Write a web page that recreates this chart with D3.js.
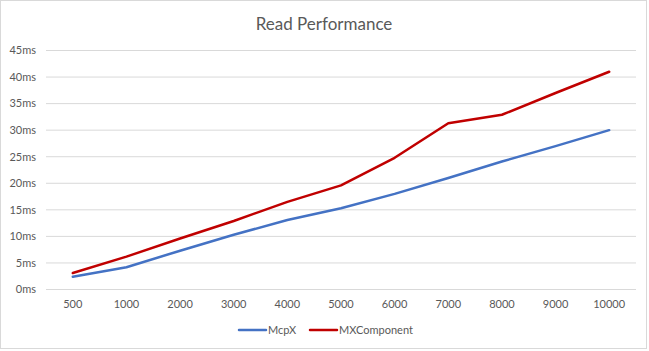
<!DOCTYPE html>
<html>
<head>
<meta charset="utf-8">
<script src="https://cdn.jsdelivr.net/npm/d3@7"></script>
<style>
  body { margin: 0; background: #fff; }
  text { font-family: Lato, "Open Sans", sans-serif; fill: #595959; }
</style>
</head>
<body>
<div id="chart"></div>
<script>
// data
const categories = ["500", "1000", "2000", "3000", "4000", "5000", "6000", "7000", "8000", "9000", "10000"];
const mcpx = [2.4, 4.2, 7.3, 10.3, 13.1, 15.3, 18.0, 21.0, 24.1, 27.0, 30.0];
const mxComponent = [3.1, 6.2, 9.6, 12.9, 16.5, 19.6, 24.8, 31.3, 32.9, 37.0, 41.0];
const yTicks = [0, 5, 10, 15, 20, 25, 30, 35, 40, 45];

const width = 649,
    height = 351;

const svg = d3.select("#chart")
    .append("svg")
    .attr("width", width)
    .attr("height", height);

// chart area border
svg.append("rect")
    .attr("x", 0.5)
    .attr("y", 0.5)
    .attr("width", 646)
    .attr("height", 348)
    .attr("fill", "#fff")
    .attr("stroke", "#d9d9d9");

svg.append("text")
    .attr("x", 324)
    .attr("y", 30)
    .attr("text-anchor", "middle")
    .style("font-size", "17px")
    .text("Read Performance");

const x = d3.scaleBand()
    .domain(categories)
    .range([46, 636]);

const y = d3.scaleLinear()
    .domain([0, 45])
    .range([289.5, 50.5]);

// gridlines
svg.append("g")
    .selectAll("line")
    .data(yTicks)
    .join("line")
    .attr("x1", 46)
    .attr("x2", 636)
    .attr("y1", d => y(d))
    .attr("y2", d => y(d))
    .attr("stroke", "#d9d9d9")
    .attr("stroke-width", 1);

// y labels
svg.append("g")
    .selectAll("text")
    .data(yTicks)
    .join("text")
    .attr("x", 36)
    .attr("y", d => y(d))
    .attr("dy", "0.35em")
    .attr("text-anchor", "end")
    .style("font-size", "11px")
    .text(d => d + "ms");

// x labels
svg.append("g")
    .selectAll("text")
    .data(categories)
    .join("text")
    .attr("x", d => x(d) + x.bandwidth() / 2)
    .attr("y", 308)
    .attr("text-anchor", "middle")
    .style("font-size", "11px")
    .text(d => d);

const series = [
    { name: "McpX", values: mcpx, color: "#4472C4" },
    { name: "MXComponent", values: mxComponent, color: "#C00000" }
];

const line = d3.line()
    .x((d, i) => x(categories[i]) + x.bandwidth() / 2)
    .y(d => y(d));

svg.append("g")
    .selectAll("path")
    .data(series)
    .join("path")
    .attr("d", d => line(d.values))
    .attr("fill", "none")
    .attr("stroke", d => d.color)
    .attr("stroke-width", 2.5)
    .attr("stroke-linejoin", "round")
    .attr("stroke-linecap", "round");

// legend
const legendX = [239, 310];
const legend = svg.append("g");
series.forEach((s, i) => {
    legend.append("line")
        .attr("x1", legendX[i])
        .attr("x2", legendX[i] + 27)
        .attr("y1", 330)
        .attr("y2", 330)
        .attr("stroke", s.color)
        .attr("stroke-width", 2.5)
        .attr("stroke-linecap", "round");
    legend.append("text")
        .attr("x", legendX[i] + 29)
        .attr("y", 330)
        .attr("dy", "0.35em")
        .style("font-size", "11px")
        .text(s.name);
});
</script>
</body>
</html>
